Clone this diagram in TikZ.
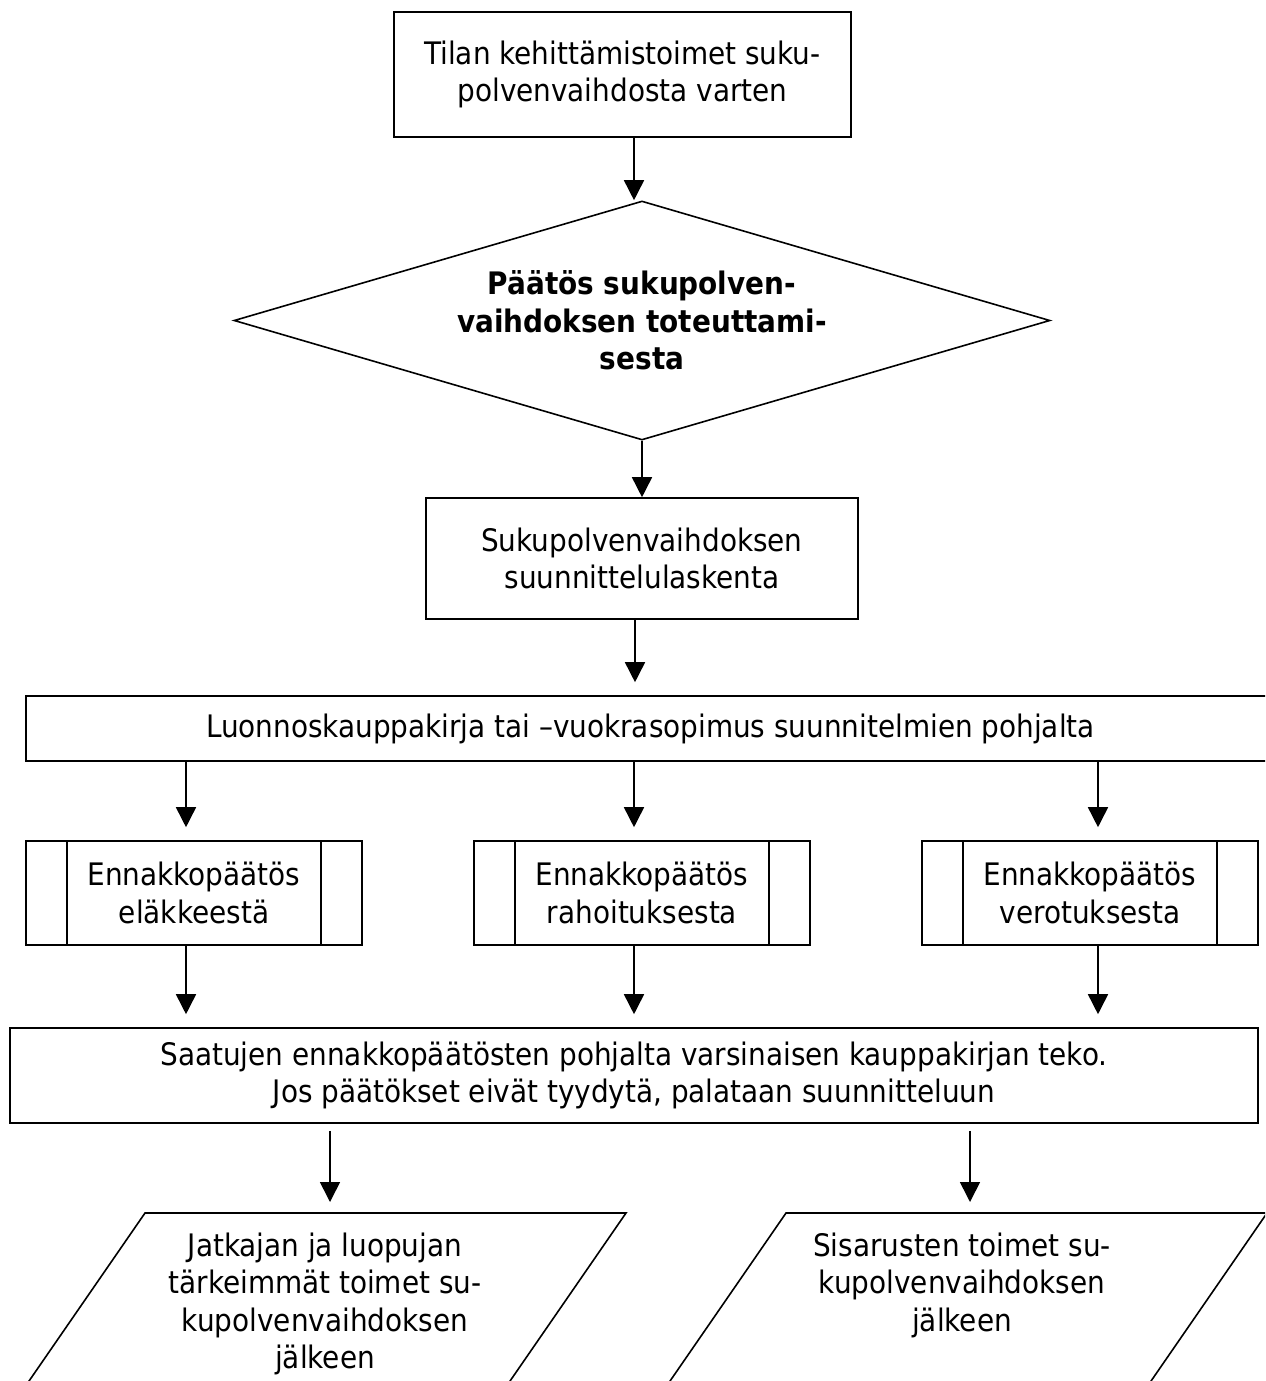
\documentclass[tikz,border=0pt]{standalone}
\usepackage{fontspec}
\setmainfont{DejaVu Sans Condensed}
\usetikzlibrary{shapes.geometric,arrows.meta}

\begin{document}
\begin{tikzpicture}[x=0.5pt,y=-0.5pt,line width=0.8pt,font=\fontsize{15.5}{18.75}\selectfont]
		\tikzset{box/.style={draw,rectangle,align=center}};
		\tikzset{decision/.style={draw,diamond,aspect=3.4,inner sep=0pt,align=center,font=\fontsize{15.5}{18.75}\selectfont\bfseries}};
		\tikzset{subproc/.style={box,minimum width=168pt,minimum height=52pt,
				path picture={\draw ([xshift=20.5pt]path picture bounding box.north west)--([xshift=20.5pt]path picture bounding box.south west)
					([xshift=-20.5pt]path picture bounding box.north east)--([xshift=-20.5pt]path picture bounding box.south east);}}};
		\tikzset{flow/.style={-{Triangle[length=10pt,width=10pt]}}};
		
		\path[use as bounding box,clip] (0,0) rectangle (1265,1381);
		
		\node (tila) at (622.5,74.5) [box,minimum width=228.5pt,minimum height=62.5pt]{Tilan kehittämistoimet suku-\\polvenvaihdosta varten};
		\node (paatos) at (642,320.5) [decision,minimum width=408pt,minimum height=119.5pt]{Päätös sukupolven-\\vaihdoksen toteuttami-\\sesta};
		\node (suunn) at (642,558.5) [box,minimum width=216pt,minimum height=60.5pt]{Sukupolvenvaihdoksen\\suunnittelulaskenta};
		\node (luonnos) at (650.5,728.5) [box,minimum width=624.5pt,minimum height=32.5pt]{Luonnoskauppakirja tai –vuokrasopimus suunnitelmien pohjalta};
		\foreach \n/\x/\t in {ela/194/eläkkeestä,rah/642/rahoituksesta,ver/1090/verotuksesta}
		\node (\n) at (\x,893) [subproc]{Ennakkopäätös\\\t};
		\node (saatu) at (634,1075.5) [box,minimum width=624pt,minimum height=47.5pt]{Saatujen ennakkopäätösten pohjalta varsinaisen kauppakirjan teko.\\Jos päätökset eivät tyydytä, palataan suunnitteluun};
		
		\draw (145,1213)--(626,1213)--(462.4,1450)--(-18.6,1450)--cycle;
		\draw (786,1213)--(1267,1213)--(1103.4,1450)--(622.4,1450)--cycle;
		\coordinate (jatkoyla) at (330,1213);
		\coordinate (sisaryla) at (970,1213);
		\node (jatko) at (325,1225) [anchor=north,align=center]{Jatkajan ja luopujan\\tärkeimmät toimet su-\\kupolvenvaihdoksen\\jälkeen};
		\node (sisar) at (962,1225) [anchor=north,align=center]{Sisarusten toimet su-\\kupolvenvaihdoksen\\jälkeen};
		
		\draw[flow] ([xshift=5.75pt]tila.south) -- ([xshift=5.75pt]tila.south |- paatos.north);
		\draw[flow] (paatos.south) -- (paatos.south |- suunn.north);
		\draw[flow,shorten >=6.5pt] ([xshift=-3.5pt]suunn.south) -- ([xshift=-3.5pt]suunn.south |- luonnos.north);
		\foreach \n/\s in {ela/-4pt,rah/-4pt,ver/4pt}{
			\draw[flow,shorten >=6.5pt] ([xshift=\s]luonnos.south -| \n.north) -- ([xshift=\s]\n.north);
			\draw[flow,shorten >=6.5pt] ([xshift=\s]\n.south) -- ([xshift=\s]\n.south |- saatu.north);}
		\draw[flow,shorten <=3.5pt,shorten >=5.5pt] (saatu.south -| jatkoyla) -- (jatkoyla);
		\draw[flow,shorten <=3.5pt,shorten >=5.5pt] (saatu.south -| sisaryla) -- (sisaryla);
\end{tikzpicture}
\end{document}
